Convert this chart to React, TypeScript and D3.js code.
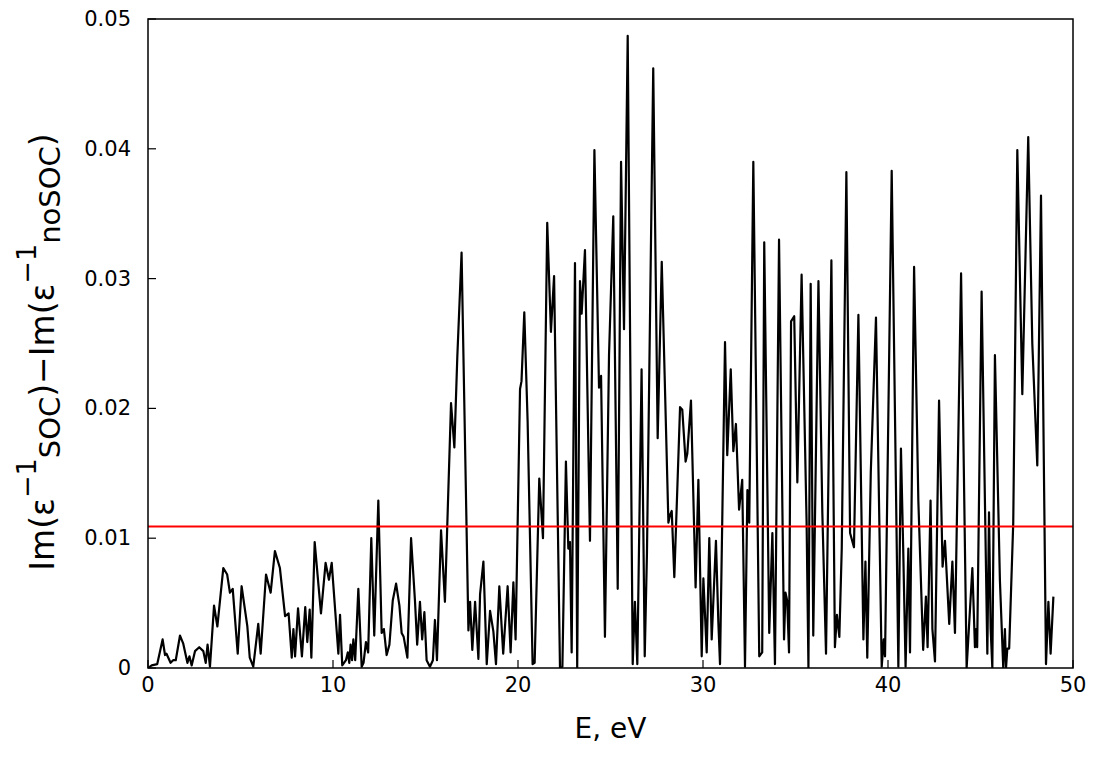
import React from 'react';
import * as d3 from 'd3';

// Energy (eV) and difference values
const energies: number[] = [
  0.0, 0.2, 0.5, 0.79, 0.92, 1.0, 1.22, 1.36, 1.5, 1.73, 1.9, 2.13, 2.24, 2.36, 2.54, 2.77, 2.99, 3.12, 3.22, 3.35,
  3.57, 3.75, 4.07, 4.28, 4.43, 4.58, 4.85, 5.06, 5.37, 5.5, 5.69, 5.96, 6.09, 6.38, 6.63, 6.86, 7.13, 7.41, 7.6, 7.77,
  7.86, 7.95, 8.11, 8.32, 8.5, 8.61, 8.74, 8.83, 9.01, 9.35, 9.6, 9.78, 9.93, 10.29, 10.38, 10.5, 10.7, 10.8, 10.88, 10.95,
  11.03, 11.1, 11.2, 11.37, 11.55, 11.65, 11.78, 11.9, 12.07, 12.23, 12.45, 12.63, 12.75, 12.9, 13.05, 13.23, 13.41, 13.59, 13.71, 13.82,
  14.02, 14.22, 14.43, 14.55, 14.7, 14.82, 14.94, 15.06, 15.24, 15.4, 15.51, 15.62, 15.84, 16.05, 16.38, 16.56, 16.72, 16.95, 17.32, 17.41,
  17.53, 17.68, 17.86, 17.95, 18.13, 18.31, 18.49, 18.67, 18.81, 18.99, 19.2, 19.44, 19.6, 19.75, 19.87, 20.11, 20.19, 20.34, 20.52, 20.79,
  20.9, 21.15, 21.35, 21.58, 21.78, 21.95, 22.27, 22.4, 22.59, 22.72, 22.81, 22.9, 23.08, 23.2, 23.35, 23.44, 23.62, 23.89, 24.13, 24.38,
  24.49, 24.7, 24.92, 25.15, 25.39, 25.57, 25.73, 25.93, 26.2, 26.32, 26.45, 26.68, 26.85, 26.97, 27.31, 27.55, 27.77, 28.13, 28.22, 28.31,
  28.45, 28.76, 28.88, 29.06, 29.15, 29.35, 29.6, 29.75, 29.93, 30.02, 30.2, 30.34, 30.47, 30.7, 30.83, 30.92, 31.19, 31.31, 31.5, 31.64,
  31.78, 31.95, 32.12, 32.27, 32.4, 32.5, 32.72, 33.04, 33.2, 33.31, 33.58, 33.75, 33.89, 34.11, 34.38, 34.46, 34.55, 34.65, 34.76, 34.93,
  35.1, 35.33, 35.6, 35.7, 35.82, 35.96, 36.24, 36.45, 36.65, 36.94, 37.13, 37.24, 37.37, 37.5, 37.75, 37.95, 38.16, 38.4, 38.67, 38.78,
  38.88, 39.07, 39.35, 39.66, 39.77, 39.84, 40.2, 40.56, 40.7, 40.82, 40.95, 41.1, 41.19, 41.41, 41.64, 41.9, 42.05, 42.14, 42.3, 42.4,
  42.54, 42.76, 42.95, 43.08, 43.31, 43.48, 43.62, 43.95, 44.25, 44.56, 44.7, 44.76, 44.82, 45.06, 45.37, 45.46, 45.55, 45.64, 45.78, 46.05,
  46.23, 46.32, 46.38, 46.45, 46.55, 46.77, 46.99, 47.26, 47.58, 47.8, 48.07, 48.27, 48.54, 48.67, 48.79, 48.94,
];

const differences: number[] = [
  0.0, 0.0002, 0.0003, 0.0022, 0.001, 0.0011, 0.0004, 0.0006, 0.0006, 0.0025, 0.0019, 0.0004, 0.0009, 0.0002, 0.0013, 0.0016, 0.0013, 0.0004, 0.0018, 0.0001,
  0.0048, 0.0032, 0.0077, 0.0072, 0.0058, 0.0061, 0.0011, 0.0063, 0.0032, 0.0008, 0.0001, 0.0034, 0.0011, 0.0072, 0.0058, 0.009, 0.0077, 0.004, 0.0042, 0.0008,
  0.003, 0.0009, 0.0046, 0.0009, 0.0047, 0.002, 0.0045, 0.0008, 0.0097, 0.0042, 0.0081, 0.0068, 0.0081, 0.0011, 0.0041, 0.0002, 0.0006, 0.0012, 0.0004, 0.0018,
  0.0006, 0.0022, 0.0006, 0.0061, 0.0001, 0.0004, 0.002, 0.0012, 0.01, 0.0025, 0.0129, 0.0027, 0.003, 0.001, 0.0018, 0.0052, 0.0065, 0.0048, 0.0027, 0.0024,
  0.0008, 0.01, 0.0052, 0.0018, 0.0051, 0.0022, 0.0043, 0.0006, 0.0001, 0.0006, 0.0037, 0.0006, 0.0106, 0.0051, 0.0204, 0.017, 0.024, 0.032, 0.0029, 0.0051,
  0.0014, 0.0051, 0.0007, 0.0057, 0.0082, 0.0003, 0.0044, 0.0028, 0.0003, 0.0063, 0.0011, 0.0063, 0.0012, 0.0066, 0.0022, 0.0215, 0.0221, 0.0274, 0.019, 0.0003,
  0.0004, 0.0146, 0.01, 0.0343, 0.0259, 0.0302, 0.0, 0.0001, 0.0159, 0.0092, 0.0097, 0.0012, 0.0312, 0.0, 0.0298, 0.0273, 0.0322, 0.0098, 0.0399, 0.0216,
  0.0225, 0.0024, 0.0241, 0.0348, 0.0061, 0.039, 0.0261, 0.0487, 0.0003, 0.0051, 0.0003, 0.023, 0.0009, 0.0088, 0.0462, 0.0177, 0.0313, 0.0112, 0.0118, 0.0121,
  0.007, 0.0201, 0.0199, 0.0159, 0.0165, 0.0206, 0.0062, 0.0145, 0.0009, 0.0069, 0.0012, 0.01, 0.0022, 0.0098, 0.0035, 0.0003, 0.0251, 0.0164, 0.023, 0.0167,
  0.0188, 0.0122, 0.0145, 0.0001, 0.0137, 0.0112, 0.039, 0.0009, 0.0012, 0.0328, 0.0027, 0.0104, 0.0003, 0.033, 0.0022, 0.0058, 0.0052, 0.0012, 0.0267, 0.0271,
  0.0143, 0.0303, 0.0112, 0.0, 0.0296, 0.0025, 0.0298, 0.012, 0.0011, 0.0314, 0.0016, 0.0041, 0.0024, 0.0092, 0.0382, 0.0104, 0.0093, 0.0272, 0.0022, 0.0082,
  0.0008, 0.0151, 0.027, 0.0001, 0.0022, 0.0009, 0.0383, 0.0001, 0.0169, 0.0093, 0.0001, 0.0092, 0.0012, 0.0309, 0.0129, 0.0014, 0.0055, 0.0016, 0.0129, 0.003,
  0.0005, 0.0206, 0.0078, 0.0098, 0.0034, 0.0082, 0.0027, 0.0304, 0.0, 0.0077, 0.0016, 0.003, 0.0016, 0.029, 0.0011, 0.012, 0.003, 0.0, 0.0241, 0.0067,
  0.0, 0.003, 0.0, 0.0015, 0.0015, 0.0112, 0.0399, 0.0211, 0.0409, 0.025, 0.0156, 0.0364, 0.0003, 0.0051, 0.0011, 0.0055,
];

const threshold = 0.0109;

const xTicks: number[] = [0, 10, 20, 30, 40, 50];
const xTickLabels: string[] = ['0', '10', '20', '30', '40', '50'];
const yTicks: number[] = [0, 0.01, 0.02, 0.03, 0.04, 0.05];
const yTickLabels: string[] = ['0', '0.01', '0.02', '0.03', '0.04', '0.05'];

const FONT = "'DejaVu Sans', 'Liberation Sans', sans-serif";

export default function App() {
  const W = 1094;
  const H = 764;
  const left = 148, right = 1073, top = 19, bottom = 668;
  const x = d3.scaleLinear().domain([0, 50]).range([left, right]);
  const y = d3.scaleLinear().domain([0, 0.05]).range([bottom, top]);
  const points: [number, number][] = energies.map((e, i) => [e, differences[i]]);
  const line = d3
    .line<[number, number]>()
    .x((d) => x(d[0]))
    .y((d) => y(d[1]))
    .curve(d3.curveLinear);

  const tickLen = 8;
  const ycx = 54;
  const ycy = 352;

  return (
    <svg
      width={W}
      height={H}
      style={{ position: 'absolute', left: 0, top: 0, background: '#fff' }}
      fontFamily={FONT}
    >
      <rect x={0} y={0} width={W} height={H} fill="#fff" />
      <defs>
        <clipPath id="plotclip">
          <rect x={left} y={top} width={right - left} height={bottom - top} />
        </clipPath>
      </defs>
      <g clipPath="url(#plotclip)">
        <path d={line(points) || ''} fill="none" stroke="#000" strokeWidth={2.2} strokeLinejoin="round" />
        <line x1={left} x2={right} y1={y(threshold)} y2={y(threshold)} stroke="#ff0000" strokeWidth={2} />
      </g>
      <rect x={left} y={top} width={right - left} height={bottom - top} fill="none" stroke="#000" strokeWidth={1.5} />
      {xTicks.map((t, i) => (
        <g key={'x' + t}>
          <line x1={x(t)} x2={x(t)} y1={bottom} y2={bottom - tickLen} stroke="#000" strokeWidth={1.2} />
          <text x={x(t)} y={bottom + 24} textAnchor="middle" fontSize={21} fill="#000">
            {xTickLabels[i]}
          </text>
        </g>
      ))}
      {yTicks.map((t, i) => (
        <g key={'y' + t}>
          <line x1={left} x2={left + tickLen} y1={y(t)} y2={y(t)} stroke="#000" strokeWidth={1.2} />
          <text x={left - 17} y={y(t) + 7} textAnchor="end" fontSize={21} fill="#000">
            {yTickLabels[i]}
          </text>
        </g>
      ))}
      <text x={(left + right) / 2} y={738} textAnchor="middle" fontSize={28} fill="#000">
        E, eV
      </text>
      <text
        transform={`translate(${ycx},${ycy}) rotate(-90)`}
        textAnchor="middle"
        fontSize={33}
        fill="#000"
      >
        <tspan>Im(ε</tspan>
        <tspan fontSize={27} dy={-18}>−1</tspan>
        <tspan fontSize={29} dy={24}>SOC</tspan>
        <tspan dy={-6}>)−Im(ε</tspan>
        <tspan fontSize={27} dy={-18}>−1</tspan>
        <tspan fontSize={29} dy={24}>noSOC</tspan>
        <tspan dy={-6}>)</tspan>
      </text>
    </svg>
  );
}
